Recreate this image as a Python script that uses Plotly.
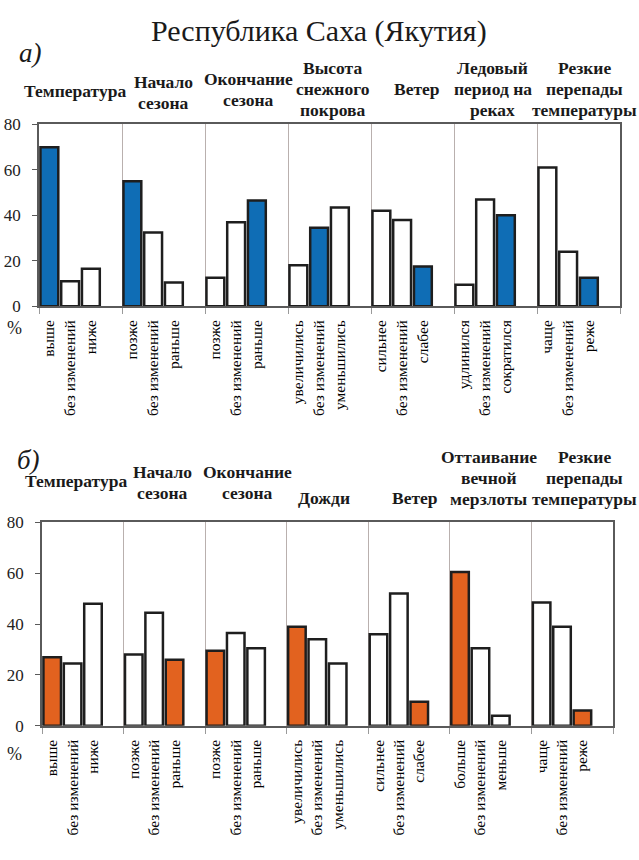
import plotly.graph_objects as go

title = "Республика Саха (Якутия)"
y_ticks = [0, 20, 40, 60, 80]

# panel a)
groups_a = ["Температура", "Начало<br>сезона", "Окончание<br>сезона",
            "Высота<br>снежного<br>покрова", "Ветер",
            "Ледовый<br>период на<br>реках", "Резкие<br>перепады<br>температуры"]
labels_a = [["выше", "без изменений", "ниже"],
            ["позже", "без изменений", "раньше"],
            ["позже", "без изменений", "раньше"],
            ["увеличились", "без изменений", "уменьшились"],
            ["сильнее", "без изменений", "слабее"],
            ["удлинился", "без изменений", "сократился"],
            ["чаще", "без изменений", "реже"]]
values_a = [[70, 11, 16.5], [55, 32.5, 10.5], [12.5, 37, 46.5], [18, 34.5, 43.5],
            [42, 38, 17.5], [9.5, 47, 40], [61, 24, 12.5]]
highlight_a = [0, 0, 2, 1, 2, 2, 2]

# panel б)
groups_b = ["Температура", "Начало<br>сезона", "Окончание<br>сезона", "Дожди", "Ветер",
            "Оттаивание<br>вечной<br>мерзлоты", "Резкие<br>перепады<br>температуры"]
labels_b = [["выше", "без изменений", "ниже"],
            ["позже", "без изменений", "раньше"],
            ["позже", "без изменений", "раньше"],
            ["увеличились", "без изменений", "уменьшились"],
            ["сильнее", "без изменений", "слабее"],
            ["больше", "без изменений", "меньше"],
            ["чаще", "без изменений", "реже"]]
values_b = [[27, 24.5, 48], [28, 44.5, 26], [29.5, 36.5, 30.5], [39, 34, 24.5],
            [36, 52, 9.5], [60.5, 30.5, 4], [48.5, 39, 6]]
highlight_b = [0, 2, 0, 0, 2, 0, 2]

W, H = 639, 860
FONT = '"Liberation Serif", "Times New Roman", Tinos, "DejaVu Serif", serif'
LINE = 21  # header line spacing, px


def px_x(x):
    return x / W


def px_y(y):
    return 1 - y / H


def add_panel(fig, n, groups, labels, values, highlight, color,
              xdom, ydom, head_y, head_dx, head_dy):
    xs, ys, cols, tv, tt = [], [], [], [], []
    for g, vals in enumerate(values):
        for i, v in enumerate(vals):
            xs.append(4 * g + i)
            ys.append(v)
            cols.append(color if i == highlight[g] else "white")
            tv.append(4 * g + i)
            tt.append(labels[g][i])
    sfx = "" if n == 1 else str(n)
    fig.add_trace(go.Bar(
        x=xs, y=ys, width=0.86, xaxis="x" + sfx, yaxis="y" + sfx,
        marker=dict(color=cols, line=dict(color="#1e1e1e", width=2.5)),
        showlegend=False, hoverinfo="skip",
    ))
    ng = len(groups)
    fig.update_layout({
        "xaxis" + sfx: dict(
            domain=[px_x(xdom[0]), px_x(xdom[1])], anchor="y" + sfx,
            range=[-0.5, 4 * ng - 0.5], tickmode="array", tickvals=tv, ticktext=tt,
            tickangle=-90, ticks="", showgrid=False, zeroline=False,
            showline=True, linecolor="#5a5a5a", linewidth=1.5, mirror=True,
            ticklabelstandoff=6,
            tickfont=dict(family=FONT, size=15.5, color="black"),
            minor=dict(tickmode="array", tickvals=[4 * g - 0.5 for g in range(ng + 1)],
                       showgrid=True, gridcolor="#b9b0ae", gridwidth=1,
                       ticks="outside", ticklen=6, tickcolor="#9a9a9a"),
        ),
        "yaxis" + sfx: dict(
            domain=[px_y(ydom[1]), px_y(ydom[0])], anchor="x" + sfx,
            range=[0, 80], tickmode="array", tickvals=y_ticks,
            ticks="outside", ticklen=5, tickcolor="#5a5a5a", showgrid=False,
            zeroline=False, showline=True, linecolor="#5a5a5a", linewidth=1.5,
            mirror=True, ticklabelstandoff=8,
            tickfont=dict(family=FONT, size=17, color="#222"),
        ),
    })
    # group headers, one annotation per line so the line spacing can be tight
    for g, name in enumerate(groups):
        lines = name.split("<br>")
        for k, line in enumerate(lines):
            fig.add_annotation(
                x=4 * g + 1.5, xref="x" + sfx, y=px_y(head_y), yref="paper",
                text="<b>" + line + "</b>", showarrow=False,
                xanchor="center", yanchor="middle",
                xshift=head_dx[g],
                yshift=-head_dy[g] - (k - (len(lines) - 1) / 2) * LINE,
                font=dict(family=FONT, size=17.5, color="#1a1a1a"),
            )


fig = go.Figure()
add_panel(fig, 1, groups_a, labels_a, values_a, highlight_a, "#0f6db5",
          (39, 620), (118, 304), 82,
          head_dx=[-6, 0, 2, 3, 4, -3, 6], head_dy=[2, 3, 0, 0, 0, 0, 0])
add_panel(fig, 2, groups_b, labels_b, values_b, highlight_b, "#e2621f",
          (42, 613), (525, 733), 480,
          head_dx=[-7, -2, 2, -4, 6, -2, 12], head_dy=[3, 4, 4, 20, 20, 0, 0])

fig.add_annotation(x=px_x(319), y=px_y(22), xref="paper", yref="paper", text=title,
                   showarrow=False, xanchor="center", yanchor="middle",
                   font=dict(family=FONT, size=30, color="#1a1a1a"))
for txt, x, y in [("а)", 30, 45), ("б)", 28, 461)]:
    fig.add_annotation(x=px_x(x), y=px_y(y), xref="paper", yref="paper",
                       text="<i>" + txt + "</i>", showarrow=False,
                       xanchor="center", yanchor="middle",
                       font=dict(family=FONT, size=27, color="#1a1a1a"))
for y in (326, 762):
    fig.add_annotation(x=px_x(14), y=px_y(y), xref="paper", yref="paper", text="%",
                       showarrow=False, xanchor="center", yanchor="middle",
                       font=dict(family=FONT, size=18, color="#222"))

fig.update_layout(
    width=W, height=H, margin=dict(l=0, r=0, t=0, b=0),
    paper_bgcolor="white", plot_bgcolor="white",
    font=dict(family=FONT),
)
# drop the default body margin so the figure sits at the window's corner
fig.write_html("out.html", config={"displayModeBar": False},
               post_script="document.body.style.margin='0';"
                           "document.body.style.overflow='hidden';")
